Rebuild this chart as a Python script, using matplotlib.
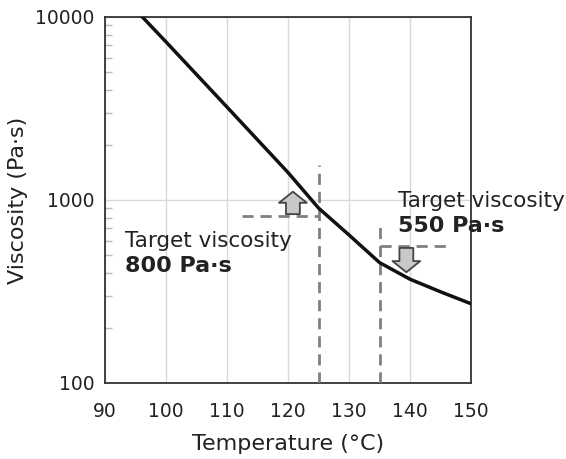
import matplotlib
matplotlib.use("Agg")
import matplotlib.pyplot as plt
from matplotlib.patches import FancyArrowPatch, ArrowStyle
from matplotlib.ticker import LogLocator, NullFormatter

plt.rcParams['font.family'] = ['DejaVu Sans']

temps = [95, 100, 110, 120, 125, 130, 135, 140, 145, 150]
viscosity = [10960, 7310, 3220, 1413, 904, 644, 455, 369, 315, 271]

x_ticks = [90, 100, 110, 120, 130, 140, 150]
y_ticks = [100, 1000, 10000]
y_tick_labels = ["100", "1000", "10000"]

target1_temp = 125
target1_visc = 820
target1_label = ["Target viscosity", "800 Pa·s"]
target2_temp = 135
target2_visc = 560
target2_label = ["Target viscosity", "550 Pa·s"]

fig = plt.figure(figsize=(5.66, 4.59), dpi=100)
ax = fig.add_axes([0.1855, 0.1656, 0.8322 - 0.1855, 0.963 - 0.1656])
ax.set_yscale('log')
ax.set_xlim(90, 150)
ax.set_ylim(100, 10000)

txt = '#222222'
ax.set_xticks(x_ticks)
ax.set_xticklabels([str(t) for t in x_ticks], fontsize=13.5, color=txt)
ax.set_yticks(y_ticks)
ax.set_yticklabels(y_tick_labels, fontsize=13.5, color=txt)
ax.yaxis.set_minor_locator(LogLocator(base=10, subs=range(2, 10)))
ax.yaxis.set_minor_formatter(NullFormatter())
ax.tick_params(axis='x', which='major', length=0, pad=14)
ax.tick_params(axis='y', which='major', length=0, pad=7.5)
ax.tick_params(axis='y', which='minor', direction='in', length=5, width=1, color='#bbbbbb')
ax.grid(True, which='major', color='#d9d9d9', linewidth=1)
for s in ax.spines.values():
    s.set_color('#333333')
    s.set_linewidth(1.3)

ax.set_xlabel('Temperature (°C)', fontsize=16, color=txt, labelpad=9)
ax.set_ylabel('Viscosity (Pa·s)', fontsize=16, color=txt, labelpad=5)

ax.plot(temps, viscosity, color='#111111', linewidth=2.5, zorder=4, clip_on=True)

dash = dict(color='#808080', linewidth=2, linestyle=(0, (4, 2.5)), zorder=3)
# target 1
ax.plot([target1_temp, target1_temp], [100, 1550], **dash)
ax.plot([112.4, target1_temp], [target1_visc, target1_visc], **dash)
# target 2
ax.plot([target2_temp, target2_temp], [100, 760], **dash)
ax.plot([target2_temp, 146], [target2_visc, target2_visc], **dash)

style = ArrowStyle.Simple(head_length=0.8, head_width=2.0, tail_width=1.0)
a1 = FancyArrowPatch((120.8, 837), (120.8, 1110), arrowstyle=style, mutation_scale=10,
                     facecolor='#c8c8c8', edgecolor='#444444', linewidth=1.3,
                     shrinkA=0, shrinkB=0, zorder=5)
a2 = FancyArrowPatch((139.4, 547), (139.4, 403), arrowstyle=style, mutation_scale=10,
                     facecolor='#c8c8c8', edgecolor='#444444', linewidth=1.3,
                     shrinkA=0, shrinkB=0, zorder=5)
ax.add_patch(a1)
ax.add_patch(a2)

ax.text(93.2, 556, target1_label[0], fontsize=15.5, color=txt, va='baseline', ha='left', zorder=6)
ax.text(93.2, 405, target1_label[1], fontsize=16, color=txt, va='baseline', ha='left',
        fontweight='bold', zorder=6)
ax.text(138.0, 918, target2_label[0], fontsize=15.5, color=txt, va='baseline', ha='left',
        zorder=6, clip_on=False)
ax.text(138.0, 671, target2_label[1], fontsize=16, color=txt, va='baseline', ha='left',
        fontweight='bold', zorder=6, clip_on=False)

fig.savefig('out.png', dpi=100)
